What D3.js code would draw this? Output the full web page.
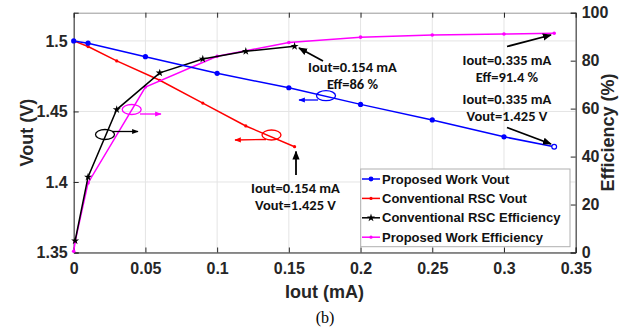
<!DOCTYPE html>
<html>
<head>
<meta charset="utf-8">
<script src="https://cdn.jsdelivr.net/npm/d3@7"></script>
<style>
  body { margin: 0; background: #fff; }
  text { font-family: "Liberation Sans", Arial, sans-serif; }
</style>
</head>
<body>
<svg></svg>
<script>
// data
let propX = [0, 0.01, 0.05, 0.1, 0.15, 0.2, 0.25, 0.3, 0.335];
let propVout = [1.5, 1.4984, 1.4888, 1.477, 1.4668, 1.455, 1.444, 1.432, 1.425];
let propEffX = [0, 0.001, 0.01, 0.05, 0.1, 0.15, 0.2, 0.25, 0.3, 0.335];
let propEff = [0.5, 4.5, 29, 69, 81.8, 87.6, 89.8, 90.7, 91.1, 91.4];

let convX = [0, 0.01, 0.03, 0.06, 0.09, 0.12, 0.154];
let convVout = [1.5, 1.496, 1.4858, 1.4721, 1.4559, 1.4397, 1.425];
let convEffX = [0.001, 0.01, 0.03, 0.06, 0.09, 0.12, 0.154];
let convEff = [4.9, 31.5, 59.6, 74.9, 80.7, 83.9, 86];

let xTicks = [0, 0.05, 0.1, 0.15, 0.2, 0.25, 0.3, 0.35];
let voutTicks = [1.35, 1.4, 1.45, 1.5];
let effTicks = [0, 20, 40, 60, 80, 100];

let legendNames = ["Proposed Work Vout", "Conventional RSC Vout", "Conventional RSC Efficiency", "Proposed Work Efficiency"];
let legendColors = ["#0000ff", "#ff0000", "#000000", "#ff00ff"];

let svg = d3.select("svg").attr("width", 632).attr("height", 331);
svg.append("rect").attr("width", 632).attr("height", 331).attr("fill", "#fff");

let L = 73.7, R = 575.7, T = 12.7, B = 252.5;
let x = d3.scaleLinear().domain([0, 0.35]).range([L, R]);
let yV = d3.scaleLinear().domain([1.35, 1.52]).range([B, T]);
let yE = d3.scaleLinear().domain([0, 100]).range([B, T]);

// grid
let grid = svg.append("g").style("stroke", "#e4e4e4").style("stroke-width", 1);
xTicks.forEach(t => grid.append("line").attr("x1", x(t)).attr("x2", x(t)).attr("y1", T).attr("y2", B));
voutTicks.forEach(t => grid.append("line").attr("x1", L).attr("x2", R).attr("y1", yV(t)).attr("y2", yV(t)));

// axes
let axisColor = "#262626";
let fmt = d => d3.format("")(+d.toFixed(3));

let xAxis = svg.append("g").attr("transform", `translate(0,${B})`)
    .call(d3.axisBottom(x).tickValues(xTicks).tickSize(-5).tickFormat(fmt).tickPadding(10));
let xTop = svg.append("g").attr("transform", `translate(0,${T})`)
    .call(d3.axisTop(x).tickValues(xTicks).tickSize(-5).tickFormat(""));
let yLeft = svg.append("g").attr("transform", `translate(${L},0)`)
    .call(d3.axisLeft(yV).tickValues(voutTicks).tickSize(-5).tickFormat(fmt).tickPadding(6));
let yRight = svg.append("g").attr("transform", `translate(${R},0)`)
    .call(d3.axisRight(yE).tickValues(effTicks).tickSize(-5).tickPadding(6));

[xAxis, xTop, yLeft, yRight].forEach(a => {
    a.selectAll("path").style("stroke", axisColor).style("stroke-width", 1);
    a.selectAll("line").style("stroke", axisColor);
    a.selectAll("text").style("font-family", "'Liberation Sans', Arial, sans-serif")
        .style("font-size", "16px").style("font-weight", "bold").style("fill", axisColor);
});
xTop.select("path").style("stroke", "#999");

// axis titles
svg.append("text").attr("transform", `translate(33,${(T + B) / 2}) rotate(-90)`)
    .attr("text-anchor", "middle").style("font-size", "18px").style("font-weight", "bold")
    .style("fill", axisColor).text("Vout (V)");
svg.append("text").attr("transform", `translate(614,${(T + B) / 2}) rotate(-90)`)
    .attr("text-anchor", "middle").style("font-size", "18px").style("font-weight", "bold")
    .style("fill", axisColor).text("Efficiency (%)");
svg.append("text").attr("x", 324.5).attr("y", 298)
    .attr("text-anchor", "middle").style("font-size", "18px").style("font-weight", "bold")
    .style("fill", axisColor).text("Iout (mA)");
svg.append("text").attr("x", 325).attr("y", 323)
    .attr("text-anchor", "middle").style("font-family", "'Liberation Serif', 'Times New Roman', serif")
    .style("font-size", "16px").style("fill", "#000").text("(b)");

// series
let line = (xs, ys, yScale) => d3.line().x((d, i) => x(xs[i])).y(d => yScale(d))(ys);
let star = d3.symbol().type(d3.symbolStar).size(20);

function drawSeries(xs, ys, yScale, color, marker) {
    let g = svg.append("g");
    g.append("path").attr("d", line(xs, ys, yScale))
        .attr("fill", "none").attr("stroke", color).attr("stroke-width", 1.5);
    ys.forEach((v, i) => {
        if (marker === "star") {
            g.append("path").attr("d", star)
                .attr("transform", `translate(${x(xs[i])},${yScale(v)})`)
                .attr("fill", color);
        } else {
            g.append("circle").attr("cx", x(xs[i])).attr("cy", yScale(v))
                .attr("r", marker).attr("fill", color);
        }
    });
    return g;
}

drawSeries(convX, convVout, yV, "#ff0000", 1.6);
drawSeries(propEffX, propEff, yE, "#ff00ff", 1.8);
drawSeries(convEffX, convEff, yE, "#000000", "star");
let blue = drawSeries(propX, propVout, yV, "#0000ff", 2.6);
// last blue point is hollow
blue.select("circle:last-of-type").attr("fill", "#fff").attr("stroke", "#0000ff").attr("stroke-width", 1.2).attr("r", 2.4);

// arrow marker defs
let defs = svg.append("defs");
legendColors.forEach((c, i) => {
    defs.append("marker").attr("id", "ah" + i).attr("viewBox", "0 0 10 10")
        .attr("refX", 9).attr("refY", 5).attr("markerWidth", 5).attr("markerHeight", 5)
        .attr("orient", "auto-start-reverse")
        .append("path").attr("d", "M0,1 L10,5 L0,9 Z").attr("fill", c);
});

function arrow(x1, y1, x2, y2, ci, w) {
    svg.append("line").attr("x1", x1).attr("y1", y1).attr("x2", x2).attr("y2", y2)
        .attr("stroke", legendColors[ci]).attr("stroke-width", w || 1.5)
        .attr("marker-end", `url(#ah${ci})`);
}
function ellipse(cx, cy, ci) {
    svg.append("ellipse").attr("cx", cx).attr("cy", cy).attr("rx", 9.5).attr("ry", 5)
        .attr("fill", "none").attr("stroke", legendColors[ci]).attr("stroke-width", 1.3);
}

// axis pointers
ellipse(131.7, 109.5, 3); arrow(140, 114, 161, 114, 3, 1.3);
ellipse(105, 134.5, 2);  arrow(112, 131.5, 138, 131.5, 2, 1.3);
ellipse(271.5, 135, 1);  arrow(266, 139.5, 235, 140, 1, 1.3);
ellipse(326, 95.7, 0);   arrow(318, 100, 299, 100, 0, 1.3);

// callouts
arrow(323, 61, 299, 48, 2, 1.8);
arrow(507, 46.5, 551, 35, 2, 1.8);
arrow(507, 127.5, 551, 144, 2, 1.8);
arrow(296, 175, 296, 151.5, 2, 1.8);

function label(cx, cy, lines) {
    lines.forEach((s, i) => {
        svg.append("text").attr("x", cx).attr("y", cy + i * 17)
            .attr("text-anchor", "middle").attr("dy", "0.35em")
            .style("font-family", "Carlito, 'Liberation Sans', Arial, sans-serif")
            .style("font-size", "14.5px").style("font-weight", "bold").style("fill", "#111")
            .text(s);
    });
}
label(352.5, 66.7, ["Iout=0.154 mA", "Eff=86 %"]);
label(507, 60, ["Iout=0.335 mA", "Eff=91.4 %"]);
label(507, 99.3, ["Iout=0.335 mA", "Vout=1.425 V"]);
label(295.5, 188, ["Iout=0.154 mA", "Vout=1.425 V"]);

// legend
let lg = svg.append("g");
lg.append("rect").attr("x", 360.7).attr("y", 169).attr("width", 209.3).attr("height", 77.7)
    .attr("fill", "#fff").attr("stroke", "#b0b0b0").attr("stroke-width", 1);
legendNames.forEach((n, i) => {
    let cy = 179 + i * 19.4;
    lg.append("line").attr("x1", 362).attr("x2", 380).attr("y1", cy).attr("y2", cy)
        .attr("stroke", legendColors[i]).attr("stroke-width", 1.5);
    if (i === 2) {
        lg.append("path").attr("d", star).attr("transform", `translate(371,${cy})`).attr("fill", legendColors[i]);
    } else {
        lg.append("circle").attr("cx", 371).attr("cy", cy).attr("r", i === 0 ? 2.4 : 1.6).attr("fill", legendColors[i]);
    }
    lg.append("text").attr("x", 382).attr("y", cy).attr("dy", "0.36em")
        .style("font-size", "13px").style("font-weight", "bold").style("fill", "#111").text(n);
});
</script>
</body>
</html>
